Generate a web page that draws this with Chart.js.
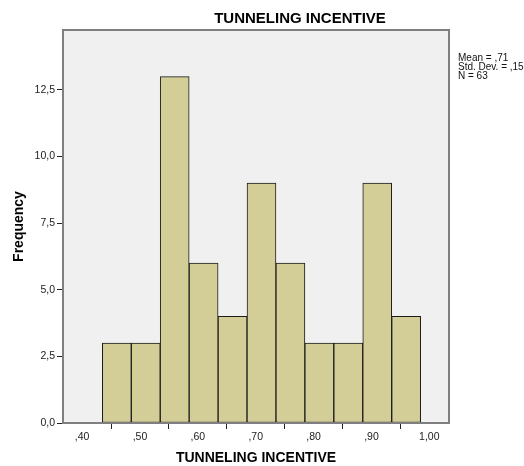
<!DOCTYPE html>
<html>
<head>
<meta charset="utf-8">
<script src="https://cdn.jsdelivr.net/npm/chart.js@4.4.1/dist/chart.umd.min.js"></script>
<style>
  html, body { margin: 0; padding: 0; background: #ffffff; }
  #wrap { width: 524px; height: 466px; position: relative; }
</style>
</head>
<body>
<div id="wrap"><canvas id="c" width="524" height="466"></canvas></div>
<script>
// ---- data ----
const binStarts = [0.435, 0.485, 0.535, 0.585, 0.635, 0.685, 0.735, 0.785, 0.835, 0.885, 0.935];
const binWidth = 0.05;
const frequencies = [3, 3, 13, 6, 4, 9, 6, 3, 3, 9, 4];
const xTickValues = [0.40, 0.50, 0.60, 0.70, 0.80, 0.90, 1.00];
const xTickLabels = [",40", ",50", ",60", ",70", ",80", ",90", "1,00"];
const yTickValues = [0, 2.5, 5, 7.5, 10, 12.5];
const yTickLabels = ["0,0", "2,5", "5,0", "7,5", "10,0", "12,5"];
const chartTitle = "TUNNELING INCENTIVE";
const xAxisTitle = "TUNNELING INCENTIVE";
const yAxisTitle = "Frequency";
const statsLines = ["Mean = ,71", "Std. Dev. = ,15", "N = 63"];

const points = binStarts.map((s, i) => ({ x: s + binWidth / 2, y: frequencies[i] }));

const decor = {
  id: 'decor',
  beforeDraw(chart) {
    const { ctx, chartArea: a } = chart;
    ctx.save();
    ctx.fillStyle = '#f0f0f0';
    ctx.fillRect(a.left, a.top, a.right - a.left, a.bottom - a.top);
    ctx.restore();
  },
  afterDraw(chart) {
    const { ctx, chartArea: a } = chart;
    ctx.save();
    ctx.strokeStyle = '#7f7f7f';
    ctx.lineWidth = 2;
    ctx.strokeRect(a.left, a.top, a.right - a.left, a.bottom - a.top);
    ctx.fillStyle = '#000';
    ctx.font = 'bold 15px "Liberation Sans", Arial, sans-serif';
    ctx.textAlign = 'center';
    ctx.textBaseline = 'middle';
    ctx.fillText(chartTitle, 300, 19);
    ctx.font = 'bold 14px "Liberation Sans", Arial, sans-serif';
    ctx.fillText(xAxisTitle, (a.left + a.right) / 2, 458);
    ctx.save();
    ctx.translate(19, (a.top + a.bottom) / 2);
    ctx.rotate(-Math.PI / 2);
    ctx.fillText(yAxisTitle, 0, 0);
    ctx.restore();
    ctx.font = '10px "Liberation Sans", Arial, sans-serif';
    ctx.textAlign = 'left';
    ctx.textBaseline = 'alphabetic';
    ctx.fillStyle = '#111';
    statsLines.forEach((t, i) => ctx.fillText(t, 458, 61 + i * 9));
    ctx.restore();
  }
};

new Chart(document.getElementById('c'), {
  type: 'bar',
  data: {
    datasets: [{
      data: points,
      backgroundColor: '#d3ce97',
      borderColor: '#1a1a1a',
      borderWidth: 1,
      barPercentage: 1,
      categoryPercentage: 1,
      borderSkipped: false
    }]
  },
  plugins: [decor],
  options: {
    responsive: false,
    animation: false,
    events: [],
    layout: { padding: { top: 30, right: 75, left: 0, bottom: 0 } },
    plugins: { legend: { display: false }, tooltip: { enabled: false }, title: { display: false } },
    scales: {
      x: {
        type: 'linear',
        offset: false,
        min: 0.367,
        max: 1.034,
        afterBuildTicks(s) { s.ticks = xTickValues.map(v => ({ value: v })); },
        afterFit(s) { s.height = 43; },
        border: { display: false },
        grid: { drawOnChartArea: false, drawTicks: true, tickLength: 6, tickColor: '#222', lineWidth: 1 },
        ticks: {
          autoSkip: false, maxRotation: 0, padding: 2,
          color: '#222',
          font: { family: '"Liberation Sans", Arial, sans-serif', size: 10.5 },
          callback(v) { const i = xTickValues.findIndex(t => Math.abs(t - v) < 1e-6); return i >= 0 ? xTickLabels[i] : ''; }
        }
      },
      y: {
        min: 0,
        max: 14.75,
        afterBuildTicks(s) { s.ticks = yTickValues.map(v => ({ value: v })); },
        afterFit(s) { s.width = 63; },
        border: { display: false },
        grid: { drawOnChartArea: false, drawTicks: true, tickLength: 6, tickColor: '#222', lineWidth: 1 },
        ticks: {
          padding: 2,
          color: '#222',
          font: { family: '"Liberation Sans", Arial, sans-serif', size: 10.5 },
          callback(v) { const i = yTickValues.findIndex(t => Math.abs(t - v) < 1e-6); return i >= 0 ? yTickLabels[i] : ''; }
        }
      }
    }
  }
});
</script>
</body>
</html>
